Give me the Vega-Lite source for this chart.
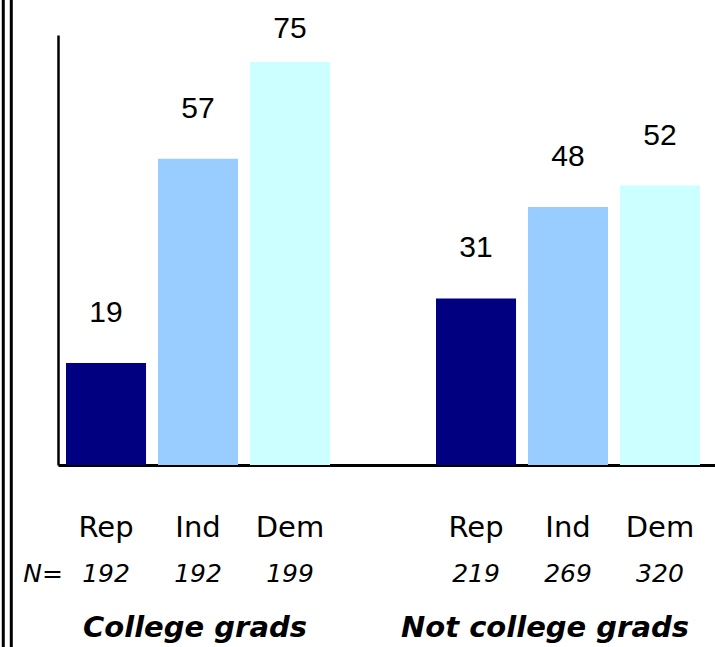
{
  "$schema": "https://vega.github.io/schema/vega-lite/v6.json",
  "autosize": {"type": "none"},
  "padding": {"left": 58, "top": 35, "right": 0, "bottom": 182},
  "width": 657,
  "height": 430,
  "background": "white",
  "config": {"view": {"stroke": null}},
  "data": {
    "values": [
      {"group": "College grads", "party": "Rep", "pct": 19, "n": "192"},
      {"group": "College grads", "party": "Ind", "pct": 57, "n": "192"},
      {"group": "College grads", "party": "Dem", "pct": 75, "n": "199"},
      {"group": "Not college grads", "party": "Rep", "pct": 31, "n": "219"},
      {"group": "Not college grads", "party": "Ind", "pct": 48, "n": "269"},
      {"group": "Not college grads", "party": "Dem", "pct": 52, "n": "320"}
    ]
  },
  "layer": [
    {
      "encoding": {
        "x": {"field": "group", "type": "nominal", "sort": ["College grads", "Not college grads"],
              "scale": {"paddingInner": 0.2865, "paddingOuter": 0.0311, "align": 0.348}},
        "xOffset": {"field": "party", "type": "nominal", "sort": ["Rep", "Ind", "Dem"],
                    "scale": {"paddingInner": 0.13, "paddingOuter": 0}}
      },
      "layer": [
        {
          "mark": {"type": "bar"},
          "encoding": {
            "x": {"field": "group", "type": "nominal", "sort": ["College grads", "Not college grads"],
                  "scale": {"paddingInner": 0.2865, "paddingOuter": 0.0311, "align": 0.348},
                  "axis": {"title": null, "ticks": false, "tickSize": 0, "domain": true, "domainColor": "black", "domainWidth": 3,
                           "labelPadding": 171, "labelBaseline": "alphabetic", "labelAngle": 0, "labelLimit": 0,
                           "labelFont": "DejaVu Sans", "labelFontSize": 29, "labelFontWeight": "bold", "labelFontStyle": "italic", "labelColor": "black",
                           "labelOffset": {"condition": {"test": "datum.value == 'Not college grads'", "value": -23}, "value": -3}}},
            "y": {"field": "pct", "type": "quantitative", "scale": {"domain": [0, 80]},
                  "axis": {"title": null, "ticks": false, "labels": false, "grid": false, "domain": true, "domainColor": "black", "domainWidth": 2.5}},
            "color": {"field": "party", "type": "nominal", "legend": null,
                      "scale": {"domain": ["Rep", "Ind", "Dem"], "range": ["#000080", "#99CCFF", "#CCFFFF"]}}
          }
        },
        {
          "transform": [{"filter": "datum.pct < 70"}],
          "mark": {"type": "text", "baseline": "alphabetic", "dy": -41, "font": "Liberation Sans", "fontSize": 30, "color": "black"},
          "encoding": {
            "y": {"field": "pct", "type": "quantitative"},
            "text": {"field": "pct", "type": "quantitative"}
          }
        },
        {
          "transform": [{"filter": "datum.pct >= 70"}],
          "mark": {"type": "text", "baseline": "alphabetic", "dy": -24, "font": "Liberation Sans", "fontSize": 30, "color": "black"},
          "encoding": {
            "y": {"field": "pct", "type": "quantitative"},
            "text": {"field": "pct", "type": "quantitative"}
          }
        },
        {
          "mark": {"type": "text", "baseline": "alphabetic", "dy": 72, "font": "DejaVu Sans", "fontSize": 29, "color": "black"},
          "encoding": {
            "y": {"datum": 0, "type": "quantitative"},
            "text": {"field": "party", "type": "nominal"}
          }
        },
        {
          "mark": {"type": "text", "baseline": "alphabetic", "dy": 117, "font": "DejaVu Sans", "fontSize": 25, "fontStyle": "italic", "color": "black"},
          "encoding": {
            "y": {"datum": 0, "type": "quantitative"},
            "text": {"field": "n", "type": "nominal"}
          }
        },
        {
          "transform": [{"filter": "datum.group == 'College grads' && datum.party == 'Rep'"}],
          "mark": {"type": "text", "baseline": "alphabetic", "align": "right", "dx": -43, "dy": 117, "font": "DejaVu Sans", "fontSize": 25, "fontStyle": "italic", "color": "black", "text": "N="},
          "encoding": {
            "y": {"datum": 0, "type": "quantitative"}
          }
        }
      ]
    },
    {
      "transform": [{"filter": "datum.group == 'College grads' && datum.party == 'Rep'"}],
      "layer": [
        {
          "mark": {"type": "rule", "strokeWidth": 3, "color": "black"},
          "encoding": {
            "x": {"datum": -0.0833, "type": "quantitative", "scale": {"domain": [0, 1]}, "axis": null},
            "y": {"datum": 87, "type": "quantitative", "scale": {"domain": [0, 80]}},
            "y2": {"datum": -40}
          }
        },
        {
          "mark": {"type": "rule", "strokeWidth": 3, "color": "black"},
          "encoding": {
            "x": {"datum": -0.0711, "type": "quantitative", "scale": {"domain": [0, 1]}, "axis": null},
            "y": {"datum": 87, "type": "quantitative", "scale": {"domain": [0, 80]}},
            "y2": {"datum": -40}
          }
        }
      ]
    }
  ],
  "resolve": {"scale": {"x": "independent"}, "axis": {"x": "independent"}}
}
